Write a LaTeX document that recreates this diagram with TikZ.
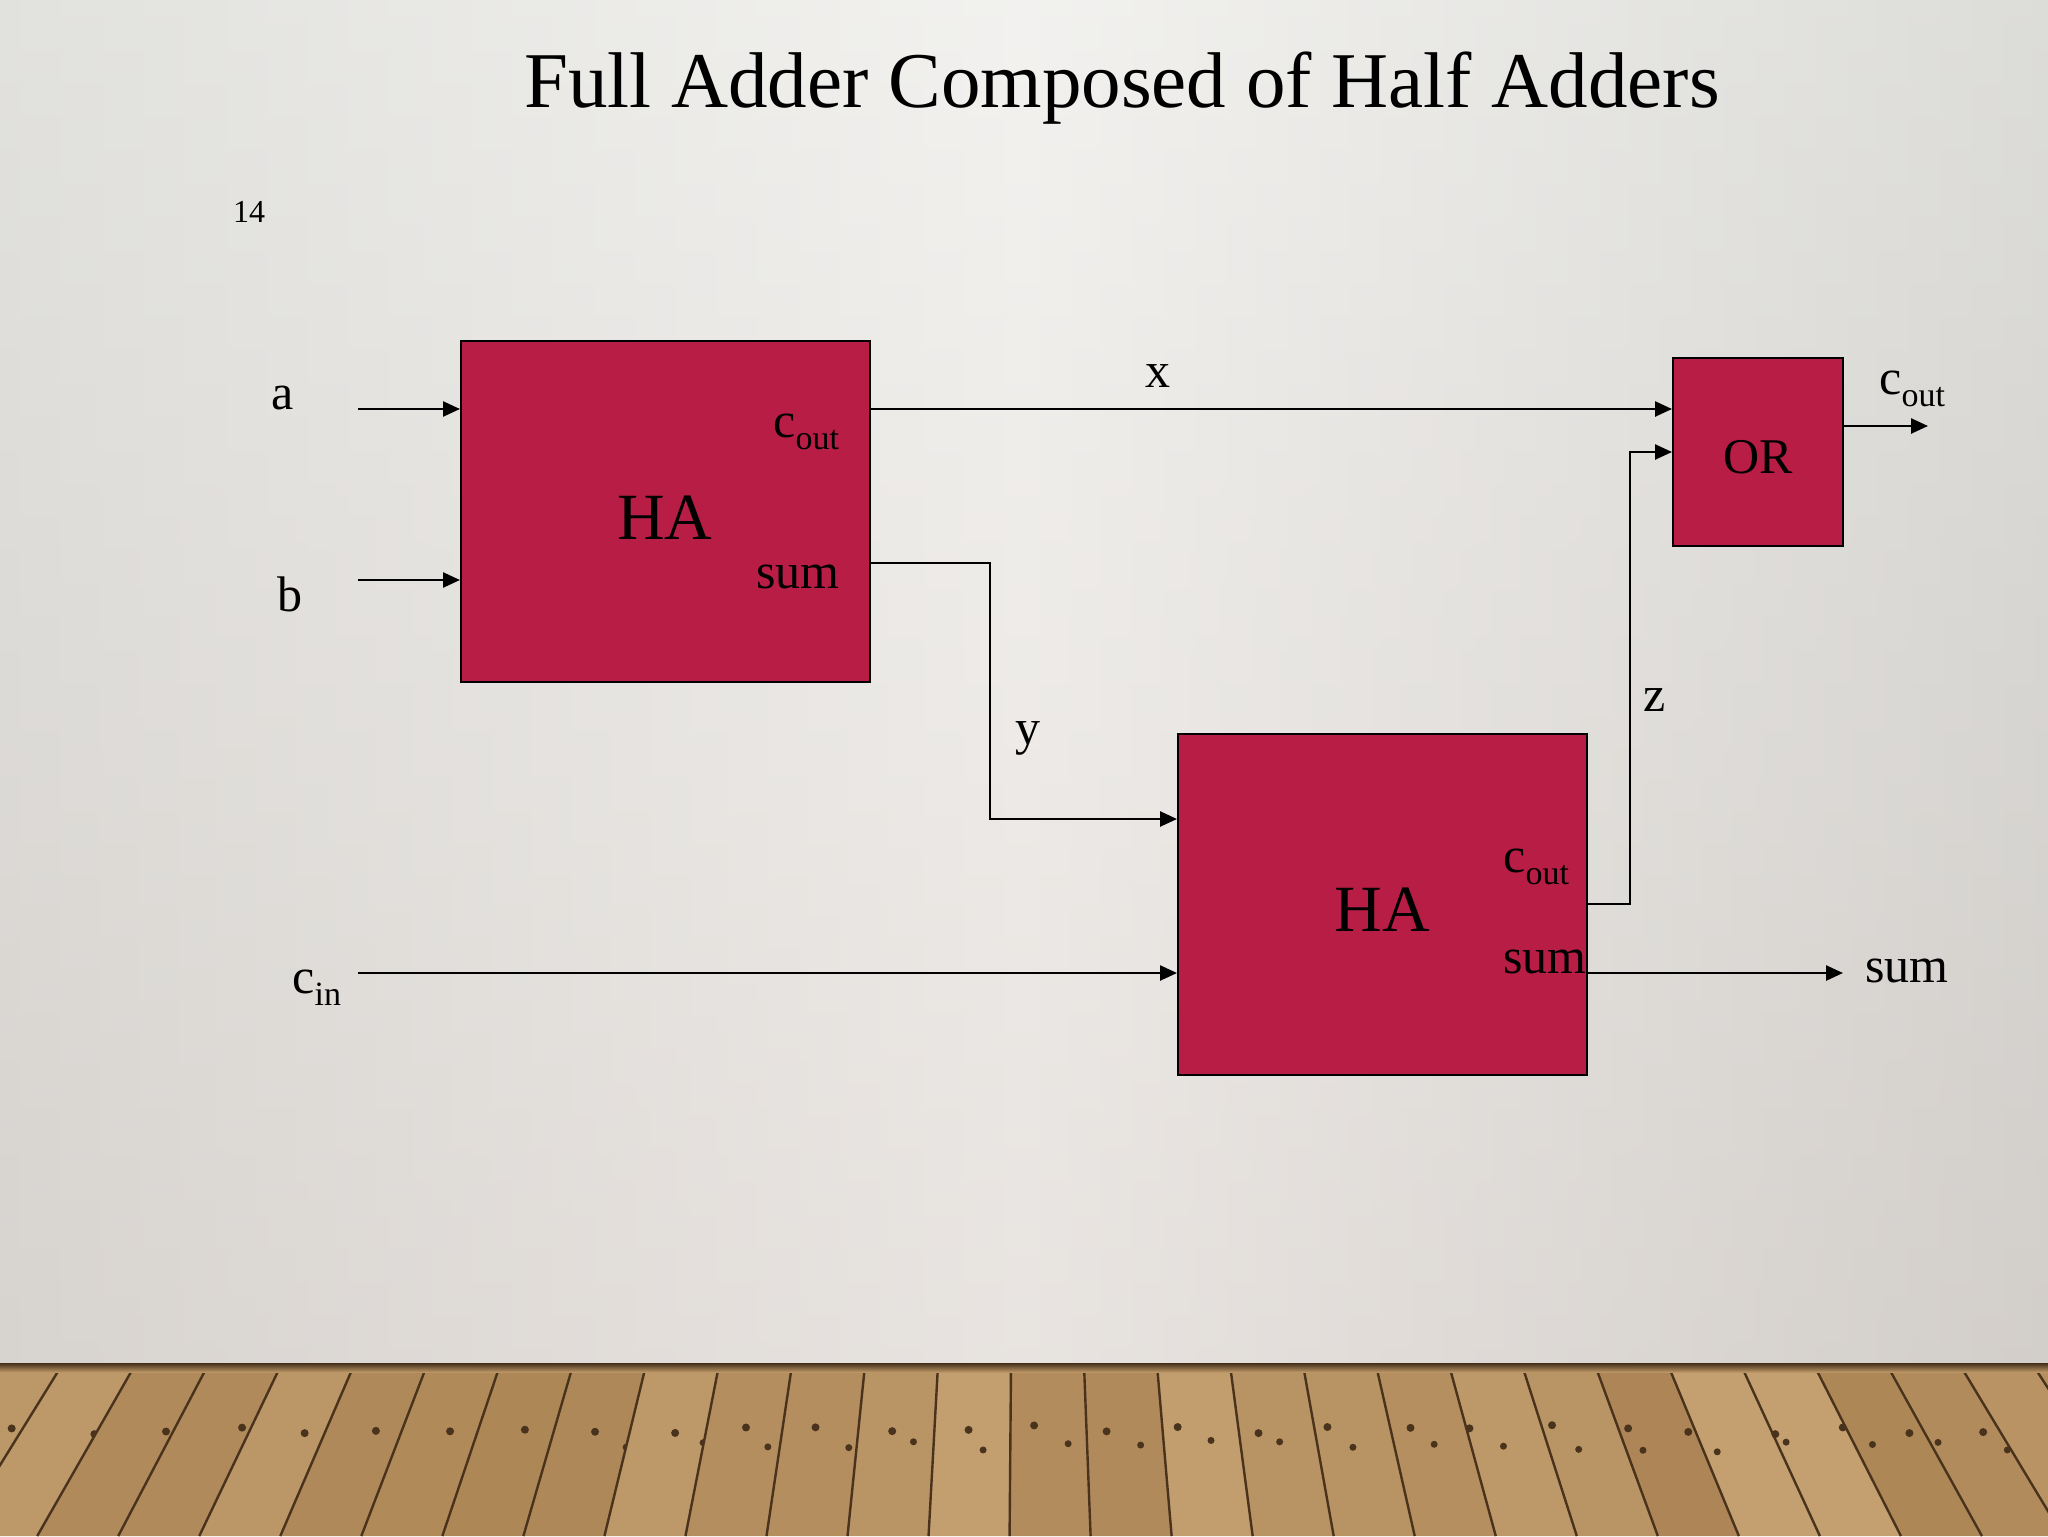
\documentclass[tikz,border=0pt]{standalone}
\usepackage{fontspec}
\setmainfont{Liberation Serif}
\usetikzlibrary{arrows.meta}
\definecolor{hared}{HTML}{B81E45}
\definecolor{wallL}{HTML}{D2D2CD}
\definecolor{wallM}{HTML}{ECEBE7}
\definecolor{wallR}{HTML}{CACAC5}
\definecolor{wallPink}{HTML}{E2D6D4}
\definecolor{woodA}{HTML}{CBA878}
\definecolor{woodB}{HTML}{94693A}
\definecolor{woodLine}{HTML}{4A331C}
\newcommand{\lbl}[1]{\fontsize{25}{25}\selectfont #1}
\newcommand{\subtxt}[1]{\raisebox{-6pt}{\fontsize{17}{17}\selectfont #1}}
\begin{document}
\begin{tikzpicture}[x=0.5pt,y=-0.5pt,
  blk/.style={draw=black,line width=1pt,fill=hared,inner sep=0pt},
  habox/.style={blk,minimum width=204.5pt,minimum height=170.5pt},
  orbox/.style={blk,minimum width=85pt,minimum height=94pt},
  wire/.style={draw=black,line width=1.25pt},
  arr/.style={wire,-{Triangle[length=8.5pt,width=7.5pt]}},
  txt/.style={inner sep=0pt,font=\lbl}
]
\useasboundingbox (0,0) rectangle (2048,1536);
% wall
\shade[left color=wallL,right color=wallR,middle color=wallM] (0,0) rectangle (2048,1365);
\shade[top color=white,bottom color=wallPink,fill opacity=0.35] (0,0) rectangle (2048,1365);
% floor
\fill[woodA] (0,1365) rectangle (2048,1536);
\begin{scope}
\clip (0,1365) rectangle (2048,1536);
\pgfmathsetseed{11}
\foreach \i in {-3,...,31}{
  \pgfmathsetmacro\xa{62+73*\i}
  \pgfmathsetmacro\xb{62+73*(\i+1)}
  \pgfmathsetmacro\ya{1024+(\xa-1024)*1.11}
  \pgfmathsetmacro\yb{1024+(\xb-1024)*1.11}
  \pgfmathsetmacro\r{int(45+45*rnd)}
  \fill[woodA!\r!woodB] (\xa,1365) -- (\xb,1365) -- (\yb,1536) -- (\ya,1536) -- cycle;
  \draw[woodLine,line width=1.2pt] (\xa,1365) -- (\ya,1536);
  \pgfmathsetmacro\kx{\xa+20+15*rnd}
  \pgfmathsetmacro\ky{1425+10*rnd}
  \fill[woodLine] (\kx,\ky) circle (4);
  \pgfmathsetmacro\kxx{\xa+45+15*rnd}
  \pgfmathsetmacro\kyy{1440+12*rnd}
  \fill[woodLine] (\kxx,\kyy) circle (3.5);
}
\end{scope}
\shade[top color=woodLine!90!black,bottom color=woodA!70!woodB] (0,1363) rectangle (2048,1372);
% title and page number
\node[inner sep=0pt,anchor=base,font=\fontsize{39.5}{40}\selectfont] (title) at (1122,107) {Full Adder Composed of Half Adders};
\node[inner sep=0pt,anchor=base,font=\fontsize{16}{16}\selectfont] (pgno) at (249,222) {14};
% blocks
\node[habox] (ha1) at (665.5,511.5) {};
\node[habox] (ha2) at (1382.5,904.5) {};
\node[orbox] (or) at (1758,452) {};
\node[inner sep=0pt,anchor=base,font=\fontsize{33}{33}\selectfont] (ha1t) at (665,539) {HA};
\node[inner sep=0pt,anchor=base,font=\fontsize{33}{33}\selectfont] (ha2t) at (1382,931) {HA};
\node[inner sep=0pt,anchor=base,font=\fontsize{25}{25}\selectfont] (ort) at (1758,473) {OR};
\node[txt,anchor=base west] (ha1c) at (773,437) {c\subtxt{out}};
\node[txt,anchor=base west] (ha1s) at (756,588) {sum};
\node[txt,anchor=base west] (ha2c) at (1503,872) {c\subtxt{out}};
\node[txt,anchor=base west] (ha2s) at (1503,973) {sum};
% external labels
\node[txt,anchor=base] (la) at (283,409) {a};
\node[txt,anchor=base] (lb) at (290,611) {b};
\node[txt,anchor=base west] (lcin) at (292,993) {c\subtxt{in}};
\node[txt,anchor=base] (lx) at (1158,387) {x};
\node[txt,anchor=base] (ly) at (1028,744) {y};
\node[txt,anchor=base] (lz) at (1655,711) {z};
\node[txt,anchor=base west] (lcout) at (1879,394) {c\subtxt{out}};
\node[txt,anchor=base] (lsum) at (1907,982) {sum};
% connector end points
\coordinate (ain) at (358,409);
\coordinate (bin) at (358,580);
\coordinate (cin) at (358,973);
\coordinate (ys) at (870,563);
\coordinate (y1) at (990,563);
\coordinate (y2) at (990,819);
\coordinate (z1) at (1630,904);
\coordinate (z2) at (1630,452);
\coordinate (coutend) at (1928,426);
\coordinate (sumend) at (1843,973);
% connectors
\draw[arr] (ain) -- (ha1.west |- ain);
\draw[arr] (bin) -- (ha1.west |- bin);
\draw[arr] (cin) -- (ha2.west |- cin);
\draw[arr] (ha1.east |- ain) -- (or.west |- ain);
\draw[arr] (ha1.east |- ys) -- (y1) -- (y2) -- (ha2.west |- y2);
\draw[arr] (ha2.east |- z1) -- (z1) -- (z2) -- (or.west |- z2);
\draw[arr] (or.east |- coutend) -- (coutend);
\draw[arr] (ha2.east |- sumend) -- (sumend);
\end{tikzpicture}
\end{document}
